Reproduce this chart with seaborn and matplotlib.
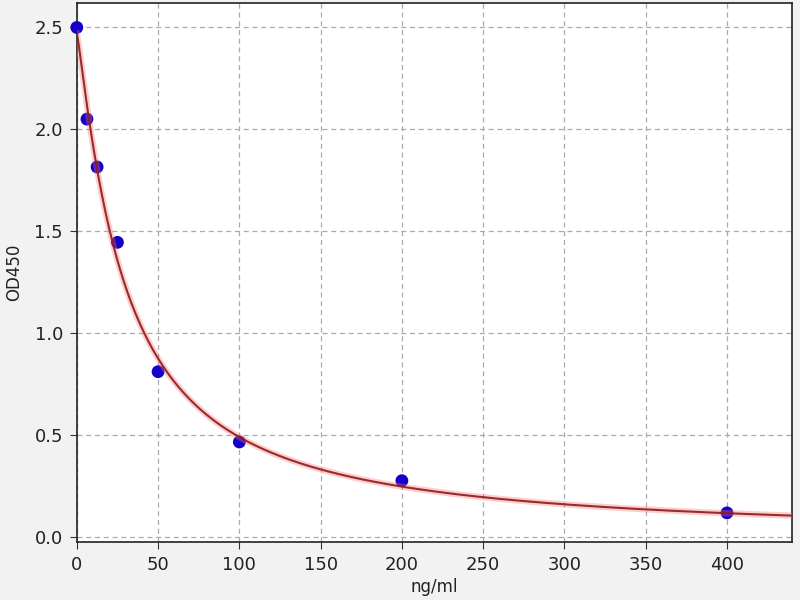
import numpy as np
import pandas as pd
import matplotlib
matplotlib.use("Agg")
import matplotlib.pyplot as plt
import seaborn as sns

# standard concentrations and measured OD
conc = [0, 6.25, 12.5, 25, 50, 100, 200, 400]
od450 = [2.50, 2.05, 1.815, 1.445, 0.81, 0.465, 0.275, 0.117]
x_ticks = [0, 50, 100, 150, 200, 250, 300, 350, 400]
y_ticks = [0.0, 0.5, 1.0, 1.5, 2.0, 2.5]


def four_pl(x, p):
    a, b, c, d = p
    return d + (a - d) / (1.0 + (np.maximum(x, 0) / c) ** b)


def fit_4pl(x, y, p0):
    # small Levenberg-Marquardt, no scipy needed
    p = np.array(p0, dtype=float)
    lam = 1e-3
    for _ in range(500):
        r = y - four_pl(x, p)
        J = np.zeros((len(x), 4))
        for k in range(4):
            dp = np.zeros(4)
            dp[k] = 1e-6 * max(abs(p[k]), 1e-3)
            J[:, k] = (four_pl(x, p + dp) - four_pl(x, p)) / dp[k]
        A = J.T @ J
        g = J.T @ r
        step = np.linalg.solve(A + lam * np.diag(np.diag(A)), g)
        p_new = p + step
        if p_new[2] > 0 and np.sum((y - four_pl(x, p_new)) ** 2) < np.sum(r ** 2):
            p = p_new
            lam *= 0.5
        else:
            lam *= 4
    return p


df = pd.DataFrame({"conc": conc, "od": od450})
params = fit_4pl(df["conc"].values, df["od"].values, [2.5, 1.2, 30.0, 0.0])
xs = np.linspace(0, 440, 400)
curve = pd.DataFrame({"conc": xs, "od": four_pl(xs, params)})

sns.set_style("white")
fig = plt.figure(figsize=(8, 6), dpi=100, facecolor="#f2f2f2")
ax = fig.add_axes([0.096, 0.097, 0.894, 0.898])
ax.set_facecolor("white")

sns.scatterplot(data=df, x="conc", y="od", ax=ax, color="#1400c8", s=85,
                edgecolor="none", zorder=3, clip_on=False)
sns.lineplot(data=curve, x="conc", y="od", ax=ax, color="#ff7070", lw=4.5,
             alpha=0.35, zorder=4)
sns.lineplot(data=curve, x="conc", y="od", ax=ax, color="#8a1c1c", lw=1.5,
             alpha=0.9, zorder=5)

ax.set_xlim(0, 440)
ax.set_ylim(-0.025, 2.62)
ax.set_xticks(x_ticks)
ax.set_yticks(y_ticks)
ax.set_xticklabels([str(t) for t in x_ticks])
ax.set_yticklabels([f"{t:.1f}" for t in y_ticks])
ax.grid(True, linestyle=(0, (4, 3)), color="#ababab", lw=0.9)
ax.tick_params(axis="both", labelsize=13, length=5, color="#333333",
               labelcolor="#222222", direction="out", bottom=True, left=True,
               pad=5)
for s in ax.spines.values():
    s.set_color("#222222")
    s.set_linewidth(1.2)
ax.set_xlabel("ng/ml", fontsize=12, color="#222222", labelpad=3)
ax.set_ylabel("OD450", fontsize=12, color="#222222", labelpad=8)

fig.savefig("out.png", dpi=100, facecolor=fig.get_facecolor())
